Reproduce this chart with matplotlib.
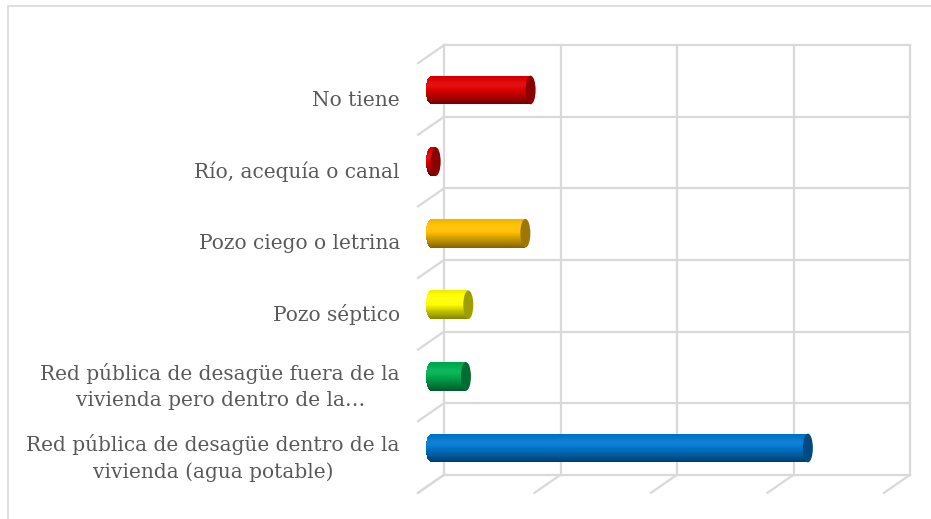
import numpy as np
import matplotlib.pyplot as plt
from matplotlib.patches import Ellipse, Rectangle
from matplotlib.colors import to_rgb

# Datos (de abajo hacia arriba)
categorias = ['Red pública de desagüe dentro de la\nvivienda (agua potable)',
              'Red pública de desagüe fuera de la\nvivienda pero dentro de la…',
              'Pozo séptico',
              'Pozo ciego o letrina',
              'Río, acequía o canal',
              'No tiene']
valores = [64.7, 6.0, 6.4, 16.2, 0.8, 17.1]
colores = ['#0078d0', '#00b050', '#ffff00', '#ffc000', '#e00000', '#e00000']
grid_vals = [0, 20, 40, 60, 80]

W, H = 931, 519
fig = plt.figure(figsize=(W / 100, H / 100), dpi=100)

# marco del gráfico
fig.add_artist(Rectangle((8 / W, -0.1), 1.2, (H - 6) / H + 0.1, transform=fig.transFigure,
                         fill=False, edgecolor='#d9d9d9', linewidth=1.2))

# ejes: cero del plano de barras en x=431px, 5.825 px por unidad, 71.6 px por categoría
px_u = 5.825
py_u = 71.6
x0 = 400; x1 = 925; ytop = 30; ybot = 505
ax = fig.add_axes([x0 / W, (H - ybot) / H, (x1 - x0) / W, (ybot - ytop) / H])
ax.set_xlim((x0 - 431) / px_u, (x1 - 431) / px_u)
ax.set_ylim((448 - ybot) / py_u, (448 - ytop) / py_u)
ax.axis('off')

dx = 13 / px_u   # profundidad en x
dy = 9 / py_u    # profundidad en y
gris = '#d9d9d9'
lw = 1.6
n = len(categorias)

# pared del fondo
for g in grid_vals:
    ax.plot([g + dx, g + dx], [-0.5 + dy, n - 0.5 + dy], color=gris, lw=lw, zorder=1)
for b in np.arange(n + 1) - 0.5:
    ax.plot([dx, grid_vals[-1] + dx], [b + dy, b + dy], color=gris, lw=lw, zorder=1)
    # pared lateral
    ax.plot([dx, -dx], [b + dy, b - dy], color=gris, lw=lw, zorder=1)
# piso
for g in grid_vals:
    ax.plot([g + dx, g - dx], [-0.5 + dy, -0.5 - dy], color=gris, lw=lw, zorder=1)


def tono(c, f):
    c = np.array(to_rgb(c))
    if f >= 1:
        return tuple(c + (1 - c) * (f - 1))
    return tuple(c * f)


alto = 0.40
cap_w = 10 / px_u
ns = 30
for i, (v, c) in enumerate(zip(valores, colores)):
    # cuerpo con degradado, extremo izquierdo redondeado
    for k in range(ns):
        t = (k + 0.5) / ns  # 0 arriba, 1 abajo
        f = 0.9 + 0.18 * np.exp(-((t - 0.35) / 0.25) ** 2) - 0.4 * t ** 3
        y = i + alto / 2 - (k + 0.5) * alto / ns
        r = (2 * t - 1)
        ext = cap_w / 2 * np.sqrt(max(0.0, 1 - r ** 2))
        ax.barh(y, v + ext, height=alto / ns * 1.1, left=-ext, color=tono(c, f),
                edgecolor='none', zorder=3)
    # tapa derecha
    ax.add_patch(Ellipse((v, i), cap_w, alto, facecolor=tono(c, 0.62), edgecolor='none', zorder=4))

# etiquetas de categoría
for i, lab in enumerate(categorias):
    ax.text((400 - 431) / px_u, i - 10 / py_u, lab, ha='right', va='center', multialignment='center',
            fontsize=14.5, family='DejaVu Serif', color='#595959', linespacing=1.5)

fig.savefig('out.png', dpi=100)
